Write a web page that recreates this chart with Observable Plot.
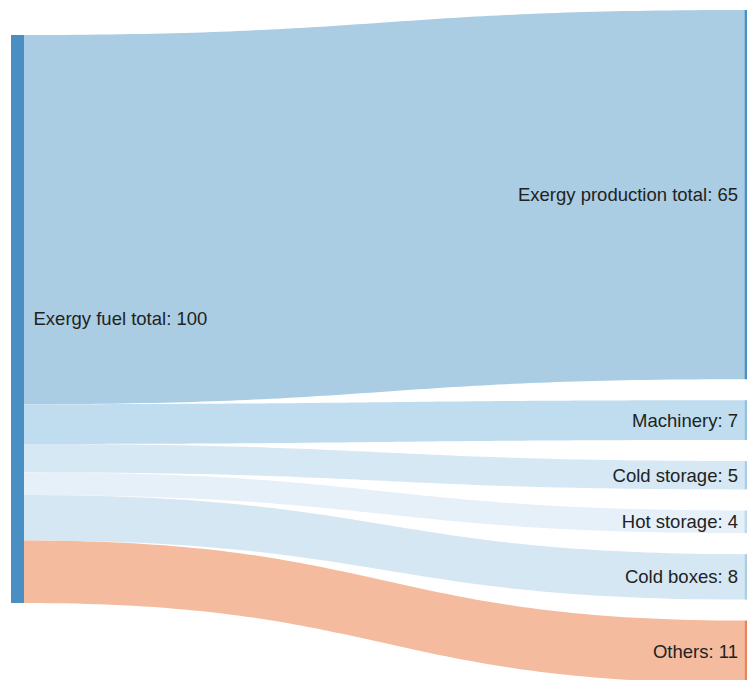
<!DOCTYPE html>
<html>
<head>
<meta charset="utf-8">
<script src="https://cdn.jsdelivr.net/npm/d3@7"></script>
<script src="https://cdn.jsdelivr.net/npm/@observablehq/plot@0.6"></script>
<style>
  html, body { margin: 0; padding: 0; background: #fff; overflow: hidden; }
  #chart { width: 747px; height: 680px; overflow: hidden; }
</style>
</head>
<body>
<div id="chart"></div>
<script>
// Exergy flows: one source split into six destinations
const sourceName = "Exergy fuel total";
const targets = ["Exergy production total", "Machinery", "Cold storage", "Hot storage", "Cold boxes", "Others"];
const values = [65, 7, 5, 4, 8, 11];
const linkColors = ["#aacde3", "#c0ddef", "#d6e8f4", "#e6f0f9", "#d5e7f3", "#f4bb9e"];
const nodeColors = ["#4a8fc4", "#8fc0e0", "#a9cfe8", "#bcd9ee", "#a9cfe8", "#e8835a"];
const sourceColor = "#4a8fc4";

const W = 747, H = 680;
const pxPerUnit = 5.68;           // vertical scale: pixels per unit of exergy
const nodeW = 13 / 733;           // node thickness in column units
const leftTop = 6.16;             // top of the source node (units)
const rightTop = 1.76;            // top of the first destination node (units)
const gap = 3.7;                  // padding between destination nodes (units)

const total = d3.sum(values);

// Stack link bands on both sides
const links = [];
let yl = leftTop, yr = rightTop;
targets.forEach((name, i) => {
  const v = values[i];
  links.push({name, value: v, y0a: yl, y0b: yl + v, y1a: yr, y1b: yr + v});
  yl += v;
  yr += v + gap;
});

// Sample each band along a horizontal cubic Bézier (control points at mid-x)
const x0 = nodeW, x1 = 1;
const pts = [];
for (const l of links) {
  for (let k = 0; k <= 80; k++) {
    const t = k / 80;
    const fx = 1.5 * t * (1 - t) + t * t * t;
    const s = 3 * t * t - 2 * t * t * t;
    pts.push({
      name: l.name,
      x: x0 + (x1 - x0) * fx,
      top: l.y0a + (l.y1a - l.y0a) * s,
      bottom: l.y0b + (l.y1b - l.y0b) * s
    });
  }
}

const nodes = [
  {name: sourceName, value: total, x1: 0, x2: nodeW, y1: leftTop, y2: leftTop + total, color: sourceColor},
  ...links.map((l, i) => ({name: l.name, value: l.value, x1: 1, x2: 1 + nodeW, y1: l.y1a, y2: l.y1b, color: nodeColors[i]}))
];

const plot = Plot.plot({
  width: W,
  height: H,
  margin: 0,
  x: {domain: [0, 1], range: [11, 744.5], axis: null},
  y: {domain: [0, H / pxPerUnit], range: [0, H], axis: null},
  color: {domain: targets, range: linkColors},
  style: {fontFamily: "'Liberation Sans', Arial, Helvetica, sans-serif", background: "white"},
  marks: [
    Plot.areaY(pts, {x: "x", y1: "top", y2: "bottom", z: "name", fill: "name", curve: "linear"}),
    Plot.rect(nodes, {x1: "x1", x2: "x2", y1: "y1", y2: "y2", fill: d => d.color}),
    Plot.text([nodes[0]], {
      x: "x2", y: d => (d.y1 + d.y2) / 2,
      text: d => `${d.name}: ${d.value}`,
      textAnchor: "start", dx: 9, fontSize: 18.5, fill: "#222"
    }),
    Plot.text(nodes.slice(1), {
      x: "x1", y: d => (d.y1 + d.y2) / 2,
      text: d => `${d.name}: ${d.value}`,
      textAnchor: "end", dx: -7, fontSize: 18.5, fill: "#222"
    })
  ]
});

document.getElementById("chart").appendChild(plot);
</script>
</body>
</html>
